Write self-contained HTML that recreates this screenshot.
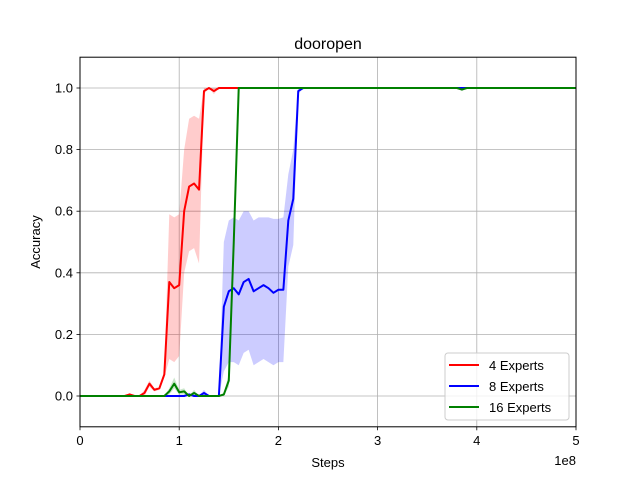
<!DOCTYPE html>
<html><head><meta charset="utf-8"><style>
body{margin:0;background:#fff}
svg text{font-family:"Liberation Sans","DejaVu Sans",sans-serif;fill:#000}
</style></head><body>
<svg id="chart" width="640" height="480">
<rect width="640" height="480" fill="#fff"/>
<g id="grid"></g>
<g id="bands"></g>
<g id="lines"></g>
<rect x="80" y="57.2" width="496" height="369.6" fill="none" stroke="#000" stroke-width="1"/>
<g id="ticks"></g>
<text x="328" y="49" text-anchor="middle" font-size="16">dooropen</text>
<text x="328" y="467" text-anchor="middle" font-size="13">Steps</text>
<text x="40" y="242" text-anchor="middle" font-size="13" transform="rotate(-90 40 242)">Accuracy</text>
<text x="576" y="465" text-anchor="end" font-size="13">1e8</text>
<g>
<rect x="445" y="353" width="124" height="67" rx="3" fill="#fff" fill-opacity="0.8" stroke="#ccc"/>
<line x1="449" y1="365" x2="479" y2="365" stroke="red" stroke-width="2"/>
<text x="489" y="370" font-size="13">4 Experts</text>
<line x1="449" y1="386" x2="479" y2="386" stroke="blue" stroke-width="2"/>
<text x="489" y="391" font-size="13">8 Experts</text>
<line x1="449" y1="407" x2="479" y2="407" stroke="green" stroke-width="2"/>
<text x="489" y="412" font-size="13">16 Experts</text>
</g>
</svg>
<script>
// x in units of 1e7 steps
const xTicks=[0,1,2,3,4,5];
const yTicks=[0.0,0.2,0.4,0.6,0.8,1.0];
const yTickLabels=["0.0","0.2","0.4","0.6","0.8","1.0"];
const redX=[0,4.5,5,5.5,6,6.5,7,7.5,8,8.5,9,9.5,10,10.5,11,11.5,12,12.5,13,13.5,14,50];
const redY=[0,0,0.005,0,0,0.01,0.04,0.02,0.025,0.07,0.37,0.35,0.36,0.6,0.68,0.69,0.67,0.99,1.0,0.99,1.0,1.0];
const redLo=[0,0,0,0,0,0,0.03,0.015,0.02,0.06,0.12,0.11,0.13,0.4,0.47,0.48,0.43,0.98,1.0,0.98,1.0,1.0];
const redHi=[0,0,0.01,0,0,0.02,0.05,0.025,0.03,0.08,0.59,0.58,0.59,0.8,0.9,0.91,0.9,1.0,1.0,1.0,1.0,1.0];
const blueX=[0,10.5,11,11.5,12,12.5,13,14,14.5,15,15.5,16,16.5,17,17.5,18,18.5,19,19.5,20,20.5,21,21.5,22,22.5,50];
const blueY=[0,0,0.005,0,0,0.01,0,0,0.29,0.34,0.35,0.33,0.37,0.38,0.34,0.35,0.36,0.35,0.335,0.345,0.345,0.57,0.64,0.99,1.0,1.0];
const blueLo=[0,0,0,0,0,0,0,0,0.08,0.11,0.11,0.1,0.14,0.15,0.1,0.11,0.12,0.11,0.1,0.11,0.11,0.42,0.49,0.98,1.0,1.0];
const blueHi=[0,0,0.01,0,0,0.02,0,0,0.5,0.57,0.58,0.57,0.6,0.6,0.57,0.58,0.58,0.58,0.575,0.575,0.58,0.72,0.8,1.0,1.0,1.0];
const greenX=[0,8.5,9,9.5,10,10.5,11,11.5,12,14,14.5,15,15.5,16,38,38.5,39,50];
const greenY=[0,0,0.015,0.04,0.012,0.015,0,0.01,0,0,0.005,0.05,0.5,1.0,1.0,0.995,1.0,1.0];
const greenLo=[0,0,0.005,0.025,0.005,0.005,0,0,0,0,0,0.03,0.45,1.0,1.0,0.99,1.0,1.0];
const greenHi=[0,0,0.025,0.06,0.02,0.025,0,0.02,0,0,0.01,0.07,0.55,1.0,1.0,1.0,1.0,1.0];

const X0=80,X1=576,Y0=426.8,Y1=57.2;
const sx=v=>X0+(v-0)/(50-0)*(X1-X0);
const sy=v=>Y0-(v+0.1)/1.2*(Y0-Y1);
const NS="http://www.w3.org/2000/svg";
function mk(tag,attrs,parent){const e=document.createElementNS(NS,tag);for(const k in attrs)e.setAttribute(k,attrs[k]);parent.appendChild(e);return e;}
const grid=document.getElementById('grid'),ticks=document.getElementById('ticks');
xTicks.forEach((t,i)=>{const x=sx(t*10);
 const g=mk('line',{x1:x,x2:x,y1:Y1,y2:Y0,stroke:'#b0b0b0','stroke-width':0.8},grid);
 
 
 const tk=mk('line',{x1:x,x2:x,y1:Y0,y2:Y0+3.5,stroke:'#000','stroke-width':0.8},ticks);
 
 
 const tx=mk('text',{x:x,y:Y0+18,'text-anchor':'middle','font-size':13},ticks);tx.textContent=String(t);
 
 
});
yTicks.forEach((t,i)=>{const y=sy(t);
 const g=mk('line',{x1:X0,x2:X1,y1:y,y2:y,stroke:'#b0b0b0','stroke-width':0.8},grid);
 
 
 const tk=mk('line',{x1:X0-3.5,x2:X0,y1:y,y2:y,stroke:'#000','stroke-width':0.8},ticks);
 
 
 const tx=mk('text',{x:X0-7,y:y+4.5,'text-anchor':'end','font-size':13},ticks);tx.textContent=yTickLabels[i];
 
 
});
const bands=document.getElementById('bands'),lines=document.getElementById('lines');
function draw(xs,ys,lo,hi,col,name){
 let d='M'+xs.map((x,i)=>sx(x)+','+sy(hi[i])).join('L');
 for(let i=xs.length-1;i>=0;i--)d+='L'+sx(xs[i])+','+sy(lo[i]);
 const b=mk('path',{d:d+'Z',fill:col,'fill-opacity':0.2,stroke:'none'},bands);
 
 
 const l=mk('polyline',{points:xs.map((x,i)=>sx(x)+','+sy(ys[i])).join(' '),fill:'none',stroke:col,'stroke-width':2,'stroke-linejoin':'round'},lines);
 
 
}
draw(redX,redY,redLo,redHi,'red','4-experts');
draw(blueX,blueY,blueLo,blueHi,'blue','8-experts');
draw(greenX,greenY,greenLo,greenHi,'green','16-experts');
</script>
</body></html>
